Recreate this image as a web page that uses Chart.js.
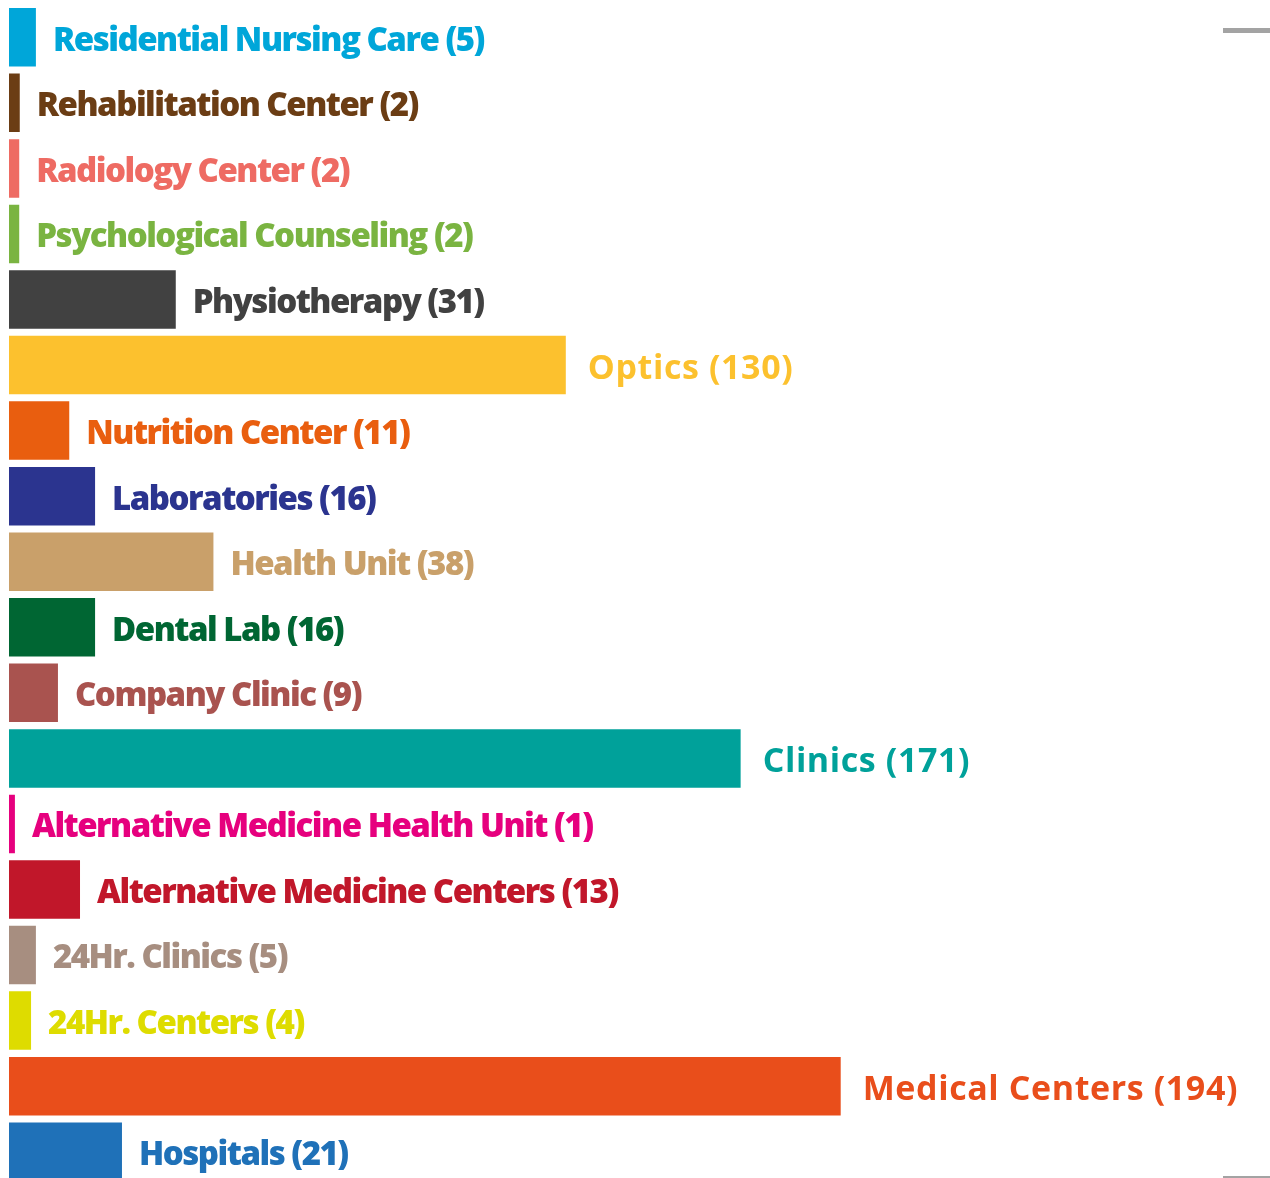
<!DOCTYPE html>
<html>
<head>
<meta charset="utf-8">
<script src="https://cdn.jsdelivr.net/npm/chart.js@4"></script>
<style>
  html, body { margin: 0; padding: 0; background: #fff; overflow: hidden; }
  #wrap { position: relative; width: 1270px; height: 1186px; }
  .tick { position: absolute; background: #a3a3a3; }
</style>
</head>
<body>
<div id="wrap">
  <canvas id="chart" width="1270" height="1186"></canvas>
  <div class="tick" style="left:1223px; top:28px; width:47px; height:5px;"></div>
  <div class="tick" style="left:1223px; top:1176px; width:47px; height:2px;"></div>
</div>
<script>
// categories, top to bottom
const categories = [
  'Residential Nursing Care', 'Rehabilitation Center', 'Radiology Center',
  'Psychological Counseling', 'Physiotherapy', 'Optics', 'Nutrition Center',
  'Laboratories', 'Health Unit', 'Dental Lab', 'Company Clinic', 'Clinics',
  'Alternative Medicine Health Unit', 'Alternative Medicine Centers',
  '24Hr. Clinics', '24Hr. Centers', 'Medical Centers', 'Hospitals'
];
// counts printed in the labels
const counts = [5, 2, 2, 2, 31, 130, 11, 16, 38, 16, 9, 171, 1, 13, 5, 4, 194, 21];
// bar lengths as drawn in the picture (big ones are drawn shorter than their count)
const barValues = [5, 2, 1.9, 1.9, 31, 103.5, 11.2, 16, 38, 16, 9.1, 136, 1.1, 13.2, 5, 4.1, 154.6, 21];
const colors = [
  '#00a6d9', '#6b3d14', '#ee6b63', '#7ab441', '#414141', '#fcc12e',
  '#e95e0f', '#2b348f', '#c9a06a', '#006633', '#a9534f', '#00a19a',
  '#e6007e', '#c1172a', '#a78e80', '#dedc00', '#e94e1b', '#1f71b8'
];

const barLabels = {
  id: 'barLabels',
  afterDatasetsDraw(chart) {
    const ctx = chart.ctx;
    const meta = chart.getDatasetMeta(0);
    ctx.save();
    ctx.textBaseline = 'middle';
    ctx.textAlign = 'left';
    meta.data.forEach((bar, i) => {
      const big = counts[i] > 100;
      ctx.font = big ? '700 34px "Open Sans"' : '800 33px "Open Sans"';
      ctx.letterSpacing = big ? '0.6px' : '-1.5px';
      ctx.fillStyle = colors[i];
      ctx.fillText(categories[i] + ' (' + counts[i] + ')', bar.x + (big ? 22 : 17), bar.y + 4);
    });
    ctx.restore();
  }
};

new Chart(document.getElementById('chart'), {
  type: 'bar',
  data: {
    labels: categories,
    datasets: [{
      data: barValues,
      backgroundColor: colors,
      borderWidth: 0,
      barPercentage: 0.892,
      categoryPercentage: 1
    }]
  },
  options: {
    indexAxis: 'y',
    responsive: false,
    animation: false,
    layout: { padding: { left: 9, right: 0, top: 4.5, bottom: 1.5 } },
    plugins: { legend: { display: false }, tooltip: { enabled: false } },
    scales: {
      x: { display: false, min: 0, max: 234.4 },
      y: { display: false }
    }
  },
  plugins: [barLabels]
});
</script>
</body>
</html>
